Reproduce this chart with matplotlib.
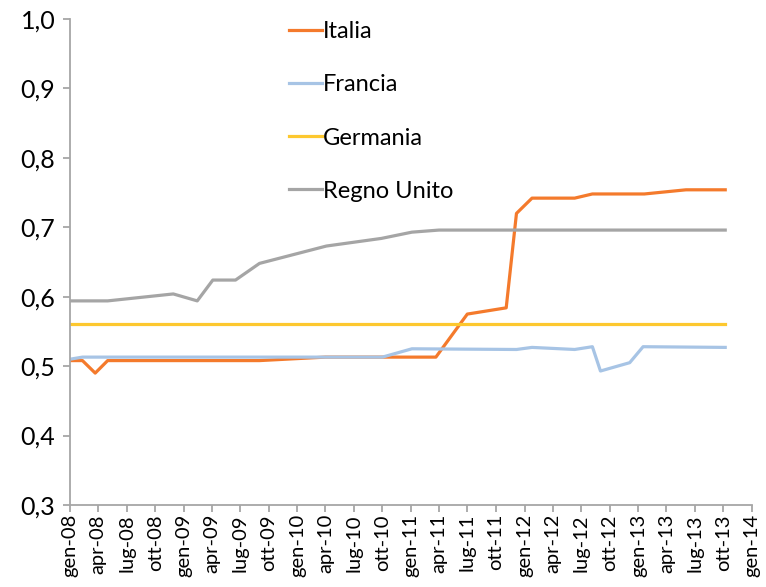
import matplotlib
matplotlib.use("Agg")
import matplotlib.pyplot as plt
import pandas as pd

plt.rcParams['font.family'] = ['Lato', 'DejaVu Sans']

# dates / values
italia_dates = ["2008-01-01", "2008-02-10", "2008-03-22", "2008-05-01", "2009-09-01",
                "2010-04-01", "2011-03-22", "2011-07-01", "2011-11-03", "2011-12-06",
                "2012-01-25", "2012-06-10", "2012-08-06", "2013-01-20", "2013-06-03",
                "2013-10-07"]
italia_vals = [0.508, 0.508, 0.490, 0.508, 0.508,
               0.513, 0.513, 0.575, 0.584, 0.720,
               0.742, 0.742, 0.748, 0.748, 0.754,
               0.754]

francia_dates = ["2008-01-01", "2008-02-10", "2010-10-01", "2011-01-04", "2011-12-06",
                 "2012-01-25", "2012-06-10", "2012-08-06", "2012-09-01", "2012-12-04",
                 "2013-01-16", "2013-10-07"]
francia_vals = [0.510, 0.513, 0.513, 0.525, 0.524,
                0.527, 0.524, 0.528, 0.493, 0.505,
                0.528, 0.527]

germania_dates = ["2008-01-01", "2013-10-07"]
germania_vals = [0.561, 0.561]

uk_dates = ["2008-01-01", "2008-05-01", "2008-11-28", "2009-02-13", "2009-04-04",
            "2009-06-16", "2009-09-01", "2010-04-04", "2010-09-28", "2011-01-04",
            "2011-04-01", "2013-10-07"]
uk_vals = [0.594, 0.594, 0.604, 0.594, 0.624,
           0.624, 0.648, 0.673, 0.684, 0.693,
           0.696, 0.696]

mesi = ["gen", "apr", "lug", "ott"]
tick_dates = pd.date_range("2008-01-01", "2014-01-01", freq="3MS")
tick_labels = [f"{mesi[(d.month - 1) // 3]}-{d.strftime('%y')}" for d in tick_dates]

fig = plt.figure(figsize=(7.66, 5.87), dpi=100)
ax = fig.add_axes([0.0914, 0.1397, 0.8903, 0.8279])

ax.plot(pd.to_datetime(italia_dates), italia_vals, color="#F47A2C", lw=2.3, label="Italia")
ax.plot(pd.to_datetime(francia_dates), francia_vals, color="#A7C4E5", lw=2.3, label="Francia")
ax.plot(pd.to_datetime(germania_dates), germania_vals, color="#FDC82F", lw=2.3, label="Germania")
ax.plot(pd.to_datetime(uk_dates), uk_vals, color="#A5A5A5", lw=2.3, label="Regno Unito")

ax.set_xlim(pd.Timestamp("2008-01-01"), pd.Timestamp("2014-01-01"))
ax.set_ylim(0.3, 1.0)
ax.set_yticks([0.3, 0.4, 0.5, 0.6, 0.7, 0.8, 0.9, 1.0])
ax.set_yticklabels([f"{v:.1f}".replace(".", ",") for v in ax.get_yticks()], fontsize=18)
ax.set_xticks(tick_dates)
ax.set_xticklabels(tick_labels, rotation=90, fontsize=14.5)

for s in ["top", "right"]:
    ax.spines[s].set_visible(False)
for s in ["left", "bottom"]:
    ax.spines[s].set_color("#A6A6A6")
    ax.spines[s].set_linewidth(1.3)
ax.tick_params(axis="both", color="#A6A6A6", width=1.3, length=5)
ax.tick_params(axis="y", pad=5.5)
ax.tick_params(axis="x", pad=1.5)

ax.legend(loc="upper left", bbox_to_anchor=(0.29, 1.039), frameon=False,
          fontsize=17, handlelength=1.4, handletextpad=0.05, labelspacing=1.36)

fig.savefig("out.png", dpi=100)
